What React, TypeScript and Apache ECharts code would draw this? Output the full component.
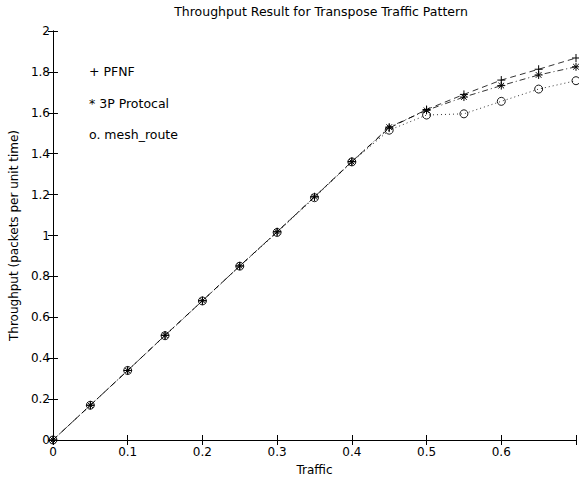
import React, { useEffect, useRef } from "react";
import * as echarts from "echarts";

const traffic = [0, 0.05, 0.1, 0.15, 0.2, 0.25, 0.3, 0.35, 0.4, 0.45, 0.5, 0.55, 0.6, 0.65, 0.7];
const pfnf = [0, 0.17, 0.34, 0.512, 0.681, 0.851, 1.018, 1.189, 1.362, 1.525, 1.616, 1.69, 1.76, 1.813, 1.868];
const p3 = [0, 0.17, 0.34, 0.512, 0.681, 0.851, 1.018, 1.189, 1.36, 1.53, 1.612, 1.677, 1.733, 1.785, 1.825];
const mesh = [0, 0.17, 0.34, 0.51, 0.68, 0.85, 1.015, 1.185, 1.36, 1.515, 1.589, 1.595, 1.656, 1.716, 1.757];
const legendLabels = ["+ PFNF", "* 3P Protocal", "o. mesh_route"];
const title = "Throughput Result for Transpose Traffic Pattern";
const xName = "Traffic";
const yName = "Throughput (packets per unit time)";

const FONT = "'DejaVu Sans', sans-serif";
const PLUS = "path://M4 0L4 8M0 4L8 4";
const STAR = "path://M4 0L4 8M0 4L8 4M1.2 1.2L6.8 6.8M1.2 6.8L6.8 1.2";

function pairs(ys: number[]) {
  return traffic.map((x, i) => [x, ys[i]]);
}

export default function App() {
  const ref = useRef<HTMLDivElement>(null);
  useEffect(() => {
    if (!ref.current) return;
    const chart = echarts.init(ref.current, undefined, { renderer: "svg" });
    const fmt = (v: number) => String(parseFloat(v.toFixed(2)));
    const axisLine = { show: true, lineStyle: { color: "#000", width: 1 } };
    const tick = { show: true, inside: true, length: 5, lineStyle: { color: "#000", width: 1 } };
    const label = { color: "#000", fontFamily: FONT, fontSize: 12 };
    chart.setOption({
      animation: false,
      backgroundColor: "#fff",
      title: {
        text: title,
        left: 316,
        top: 0,
        textAlign: "center",
        textStyle: { fontFamily: FONT, fontSize: 12.5, fontWeight: "normal", color: "#000" },
      },
      grid: { left: 50, right: 1, top: 31, bottom: 34, containLabel: false },
      xAxis: [
        {
          type: "value",
          min: 0,
          max: 0.7,
          interval: 0.1,
          position: "bottom",
          axisLine,
          axisTick: tick,
          splitLine: { show: false },
          axisLabel: { ...label, margin: 6, formatter: (v: number) => (v > 0.65 ? "" : fmt(v)) },
          name: xName,
          nameLocation: "middle",
          nameGap: 24,
          nameTextStyle: { ...label },
        },
        {
          type: "value",
          min: 0,
          max: 0.7,
          interval: 0.1,
          position: "top",
          axisLine,
          axisTick: tick,
          splitLine: { show: false },
          axisLabel: { show: false },
        },
      ],
      yAxis: [
        {
          type: "value",
          min: 0,
          max: 2,
          interval: 0.2,
          position: "left",
          axisLine,
          axisTick: tick,
          splitLine: { show: false },
          axisLabel: { ...label, margin: 3, formatter: (v: number) => fmt(v) },
          name: yName,
          nameLocation: "middle",
          nameGap: 26,
          nameTextStyle: { ...label },
        },
        {
          type: "value",
          min: 0,
          max: 2,
          interval: 0.2,
          position: "right",
          axisLine,
          axisTick: tick,
          splitLine: { show: false },
          axisLabel: { show: false },
        },
      ],
      series: [
        {
          type: "line",
          name: "mesh_route",
          data: pairs(mesh),
          symbol: "circle",
          symbolSize: 8,
          showAllSymbol: true,
          lineStyle: { color: "#000", width: 0.8, type: [1, 3] },
          itemStyle: { color: "none", borderColor: "#000", borderWidth: 0.9 },
          clip: false,
        },
        {
          type: "line",
          name: "3P Protocal",
          data: pairs(p3),
          symbol: STAR,
          symbolSize: 8,
          showAllSymbol: true,
          lineStyle: { color: "#000", width: 0.8, type: [6, 3, 1, 3] },
          itemStyle: { color: "none", borderColor: "#000", borderWidth: 1 },
          clip: false,
        },
        {
          type: "line",
          name: "PFNF",
          data: pairs(pfnf),
          symbol: PLUS,
          symbolSize: 8,
          showAllSymbol: true,
          lineStyle: { color: "#000", width: 0.8, type: [6, 4] },
          itemStyle: { color: "none", borderColor: "#000", borderWidth: 1 },
          clip: false,
        },
      ],
      graphic: legendLabels.map((t, i) => ({
        type: "text",
        left: 89,
        top: 65 + i * 31.5,
        style: { text: t, fontFamily: FONT, fontSize: 12.5, fill: "#000" },
      })),
    });
    return () => chart.dispose();
  }, []);
  return <div ref={ref} style={{ position: "fixed", left: 0, top: 0, width: 579, height: 481 }} />;
}
